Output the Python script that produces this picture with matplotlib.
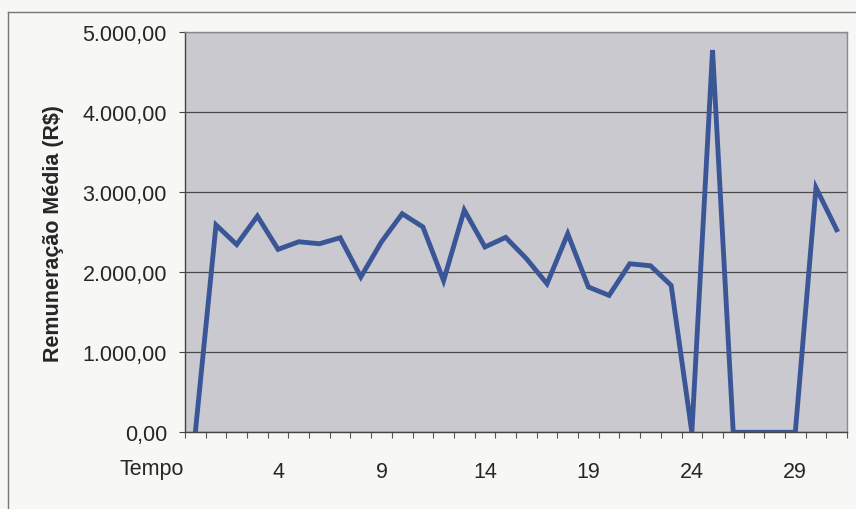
import numpy as np
import matplotlib.pyplot as plt
from matplotlib.lines import Line2D
from matplotlib.ticker import FuncFormatter

plt.rcParams['font.family'] = ['Liberation Sans', 'DejaVu Sans']

# Remuneração média por período
tempo = list(range(32))
remuneracao = [0, 2590, 2345, 2700, 2285, 2380, 2355, 2430, 1940, 2380,
               2730, 2565, 1895, 2775, 2315, 2435, 2170, 1855, 2480, 1815,
               1710, 2105, 2080, 1835, 0, 4775, 0, 0, 0, 0, 3055, 2530]
rotulos_x = ['4', '9', '14', '19', '24', '29']
pos_rotulos = [4, 9, 14, 19, 24, 29]
y_ticks = [0, 1000, 2000, 3000, 4000, 5000]

fig = plt.figure(figsize=(8.56, 5.10), dpi=100, facecolor='#f7f7f5')
ax = fig.add_axes([0.2161, 0.1504, 0.7734, 0.7849])
ax.set_facecolor('#c9c9cf')

ax.plot(tempo, remuneracao, color='#3b5697', lw=3.5, solid_joinstyle='miter',
        zorder=3)

ax.set_xlim(-0.5, 31.5)
ax.set_ylim(0, 5000)

# eixo y
def fmt_br(v, pos):
    s = f'{v:,.2f}'
    return s.replace(',', 'X').replace('.', ',').replace('X', '.')

ax.set_yticks(y_ticks)
ax.yaxis.set_major_formatter(FuncFormatter(fmt_br))
ax.tick_params(axis='y', length=4, width=0.8, color='#444444', pad=9,
               labelsize=15.5, labelcolor='#262626')
ax.grid(axis='y', color='#4a4a4a', lw=0.9)
ax.set_axisbelow(True)
ax.set_ylabel('Remuneração Média (R$)', fontsize=15.5, fontweight='bold',
              color='#262626', labelpad=13)

# eixo x: marcas entre categorias, rótulos a cada 5
ax.set_xticks(np.arange(-0.5, 32, 1.0), minor=True)
ax.tick_params(axis='x', which='minor', length=4, width=0.8, color='#555555')
ax.set_xticks(pos_rotulos)
ax.set_xticklabels(rotulos_x)
ax.tick_params(axis='x', which='major', length=0, pad=21, labelsize=15.5,
               labelcolor='#262626')
ax.text(-2.1, -0.09, 'Tempo', transform=ax.get_xaxis_transform(),
        ha='center', va='center', fontsize=15.5, color='#262626', clip_on=False)

for lado in ['left', 'bottom']:
    ax.spines[lado].set_color('#444444')
    ax.spines[lado].set_linewidth(1.0)
for lado in ['top', 'right']:
    ax.spines[lado].set_color('#8a8a8a')
    ax.spines[lado].set_linewidth(1.0)

# moldura do gráfico
fig.add_artist(Line2D([8 / 856, 1], [1 - 13 / 510, 1 - 13 / 510],
                      color='#777777', lw=1.0))
fig.add_artist(Line2D([8 / 856, 8 / 856], [0, 1 - 13 / 510],
                      color='#777777', lw=1.0))

fig.savefig('out.png', dpi=100, facecolor=fig.get_facecolor())
